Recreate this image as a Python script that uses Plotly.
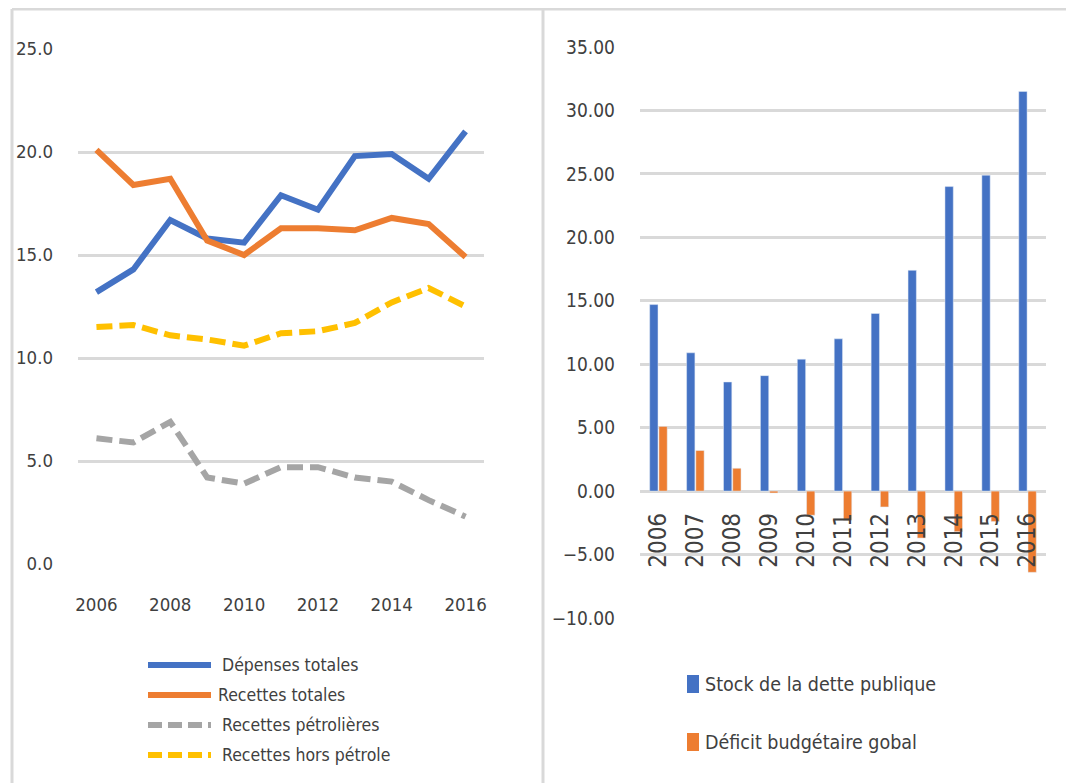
import plotly.graph_objects as go

# ---------------- data ----------------
years = [2006, 2007, 2008, 2009, 2010, 2011, 2012, 2013, 2014, 2015, 2016]
year_labels = [str(y) for y in years]

depenses_totales = [13.2, 14.3, 16.7, 15.8, 15.6, 17.9, 17.2, 19.8, 19.9, 18.7, 21.0]
recettes_totales = [20.1, 18.4, 18.7, 15.7, 15.0, 16.3, 16.3, 16.2, 16.8, 16.5, 14.9]
recettes_petrolieres = [6.1, 5.9, 6.9, 4.2, 3.9, 4.7, 4.7, 4.2, 4.0, 3.1, 2.3]
recettes_hors_petrole = [11.5, 11.6, 11.1, 10.9, 10.6, 11.2, 11.3, 11.7, 12.7, 13.4, 12.5]

stock_dette = [14.7, 10.9, 8.6, 9.1, 10.4, 12.0, 14.0, 17.4, 24.0, 24.9, 31.5]
deficit_budgetaire = [5.1, 3.2, 1.8, -0.15, -1.9, -2.3, -1.25, -3.7, -3.2, -2.4, -6.4]

left_names = ["Dépenses totales", "Recettes totales", "Recettes pétrolières", "Recettes hors pétrole"]
right_names = ["Stock de la dette publique", "Déficit budgétaire gobal"]

left_ticks = [2006, 2008, 2010, 2012, 2014, 2016]

# ---------------- style ----------------
W, H = 1074, 783
OFF = 8  # page body margin offset
FONT = "DejaVu Sans Condensed, Liberation Sans Narrow, Arial Narrow, sans-serif"
TXT = "#404040"
GRID = "#d9d9d9"
BLUE, ORANGE, GRAY, YELLOW = "#4472C4", "#ED7D31", "#A5A5A5", "#FFC000"


def px_x(p):
    return (p - OFF) / W


def px_y(p):
    return 1 - (p - OFF) / H


fig = go.Figure()

left_series = [depenses_totales, recettes_totales, recettes_petrolieres, recettes_hors_petrole]
left_colors = [BLUE, ORANGE, GRAY, YELLOW]
left_dash = ["solid", "solid", "16px,7px", "16px,7px"]

for name, vals, col, dash in zip(left_names, left_series, left_colors, left_dash):
    fig.add_trace(go.Scatter(x=years, y=vals, name=name, mode="lines",
                             line=dict(color=col, width=6, dash=dash),
                             xaxis="x", yaxis="y", showlegend=False))

fig.add_trace(go.Bar(x=year_labels, y=stock_dette, name=right_names[0], marker_color=BLUE,
                     xaxis="x2", yaxis="y2", showlegend=False))
fig.add_trace(go.Bar(x=year_labels, y=deficit_budgetaire, name=right_names[1], marker_color=ORANGE,
                     xaxis="x2", yaxis="y2", showlegend=False))

# y position of zero line in right panel (paper coords)
y2_dom = [px_y(618), px_y(47)]
y2_range = [-10, 35]
zero_pos = y2_dom[0] + (0 - y2_range[0]) / (y2_range[1] - y2_range[0]) * (y2_dom[1] - y2_dom[0])

fig.update_layout(
    width=W, height=H,
    margin=dict(l=0, r=0, t=0, b=0, autoexpand=False),
    showlegend=False,
    paper_bgcolor="white", plot_bgcolor="white",
    font=dict(family=FONT, color=TXT, size=18),
    barmode="group", bargap=0.5, bargroupgap=0.1,
    xaxis=dict(domain=[px_x(78), px_x(484)], range=[2005.5, 2016.5],
               tickvals=left_ticks, ticktext=[str(t) for t in left_ticks],
               showgrid=False, zeroline=False, showline=False, ticks="", automargin=False,
               tickfont=dict(size=18.5), ticklabelstandoff=27, anchor="y"),
    yaxis=dict(domain=[px_y(564), px_y(49)], range=[0, 25], dtick=5, tickformat=".1f",
               showgrid=True, gridcolor=GRID, gridwidth=2.5, zeroline=False, showline=False,
               ticks="", automargin=False, tickfont=dict(size=18.5), ticklabelstandoff=24, anchor="x"),
    xaxis2=dict(domain=[px_x(640), px_x(1046)], type="category",
                anchor="free", position=zero_pos, tickangle=-90,
                showgrid=False, zeroline=False, showline=False, ticks="", automargin=False,
                tickfont=dict(size=24), ticklabelstandoff=16),
    yaxis2=dict(domain=y2_dom, range=y2_range, dtick=5, tickformat=".2f",
                showgrid=True, gridcolor=GRID, gridwidth=2.5, zeroline=False, showline=False,
                ticks="", automargin=False, tickfont=dict(size=19), ticklabelstandoff=24, anchor="x2"),
)

shapes = []
# frame lines
shapes.append(dict(type="line", xref="paper", yref="paper", x0=px_x(12), x1=1, y0=px_y(9), y1=px_y(9),
                   line=dict(color=GRID, width=3)))
shapes.append(dict(type="line", xref="paper", yref="paper", x0=px_x(12), x1=px_x(12), y0=0, y1=px_y(9),
                   line=dict(color=GRID, width=3)))
shapes.append(dict(type="line", xref="paper", yref="paper", x0=px_x(543), x1=px_x(543), y0=0, y1=px_y(9),
                   line=dict(color=GRID, width=3)))

annotations = []
# left custom legend
leg_y = [665, 695, 725, 755]
leg_text_x = [220, 216, 220, 220]
leg_dash = ["solid", "solid", "14px,6px", "14px,6px"]
for name, col, dash, yy, tx in zip(left_names, left_colors, leg_dash, leg_y, leg_text_x):
    shapes.append(dict(type="line", xref="paper", yref="paper", x0=px_x(148), x1=px_x(211),
                       y0=px_y(yy), y1=px_y(yy), line=dict(color=col, width=6, dash=dash)))
    annotations.append(dict(xref="paper", yref="paper", x=px_x(tx), y=px_y(yy), text=name,
                            showarrow=False, xanchor="left", yanchor="middle",
                            font=dict(size=17.5, color=TXT)))

# right custom legend
r_leg_y = [684, 742]
for name, col, yy in zip(right_names, [BLUE, ORANGE], r_leg_y):
    shapes.append(dict(type="rect", xref="paper", yref="paper", x0=px_x(687), x1=px_x(699),
                       y0=px_y(yy + 9), y1=px_y(yy - 9), fillcolor=col, line=dict(width=0)))
    annotations.append(dict(xref="paper", yref="paper", x=px_x(703), y=px_y(yy), text=name,
                            showarrow=False, xanchor="left", yanchor="middle",
                            font=dict(size=19.5, color=TXT)))

fig.update_layout(shapes=shapes, annotations=annotations)

fig.write_html("out.html")
